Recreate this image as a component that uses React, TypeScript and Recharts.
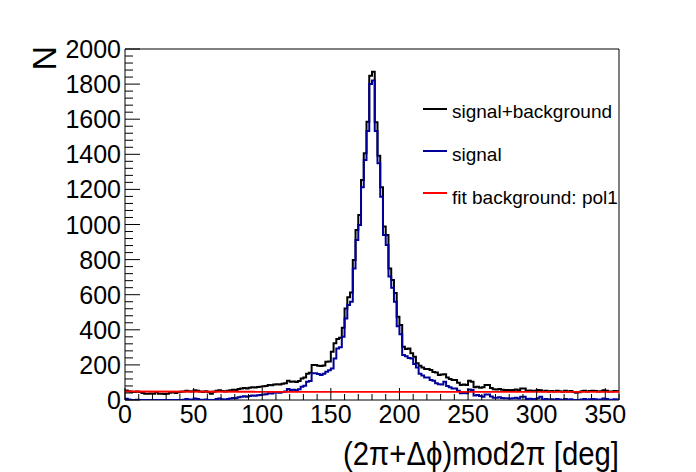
import React from 'react';
import { ComposedChart, Line, XAxis, YAxis, ReferenceArea, Legend } from 'recharts';

// 180 bins of 2 deg each, from 0 to 360
const BIN_WIDTH = 2;
const binEdges = Array.from({ length: 181 }, (_, i) => i * BIN_WIDTH);

const signalPlusBackground = [
  54, 50, 47, 45, 48, 46, 40, 36, 35, 37,
  36, 44, 36, 35, 34, 36, 42, 45, 40, 44,
  47, 49, 52, 50, 48, 55, 53, 48, 46, 50,
  44, 36, 47, 52, 55, 51, 48, 53, 56, 58,
  57, 62, 65, 68, 66, 70, 72, 71, 74, 76,
  78, 80, 86, 84, 89, 90, 88, 92, 95, 110,
  104, 106, 103, 108, 123, 128, 150, 155, 199, 199,
  195, 194, 196, 218, 220, 275, 323, 348, 355, 412,
  522, 585, 613, 798, 969, 1054, 1254, 1406, 1586, 1848,
  1871, 1582, 1392, 1212, 988, 940, 750, 684, 610, 475,
  427, 304, 290, 294, 266, 247, 209, 195, 185, 176,
  176, 171, 160, 157, 142, 145, 147, 128, 120, 114,
  114, 99, 85, 88, 85, 110, 104, 73, 75, 70,
  73, 85, 85, 68, 61, 60, 62, 58, 57, 57,
  55, 57, 60, 56, 65, 65, 52, 54, 53, 52,
  57, 55, 50, 52, 48, 51, 49, 53, 50, 47,
  52, 48, 51, 46, 42, 44, 50, 52, 48, 51,
  53, 51, 48, 50, 55, 52, 49, 48, 51, 50,
];

const signal = [
  7, 3, 0, 0, 1, 0, 0, 0, 0, 0,
  0, 0, 0, 0, 0, 0, 0, 0, 0, 0,
  0, 2, 5, 3, 1, 8, 6, 1, 0, 3,
  0, 0, 0, 5, 8, 4, 1, 6, 9, 11,
  10, 15, 18, 21, 19, 23, 25, 24, 27, 29,
  31, 33, 39, 37, 42, 43, 41, 45, 48, 63,
  57, 59, 56, 61, 76, 81, 104, 108, 152, 152,
  148, 142, 150, 161, 170, 180, 237, 294, 300, 360,
  465, 541, 560, 750, 912, 997, 1212, 1368, 1533, 1800,
  1820, 1533, 1349, 1158, 940, 883, 703, 640, 560, 420,
  375, 256, 250, 240, 237, 205, 185, 150, 140, 128,
  128, 114, 110, 95, 90, 88, 104, 80, 72, 66,
  66, 52, 38, 40, 38, 60, 57, 26, 28, 23,
  19, 32, 32, 20, 13, 13, 15, 11, 10, 10,
  8, 10, 13, 9, 19, 18, 5, 7, 6, 5,
  10, 19, 3, 5, 1, 4, 2, 6, 3, 0,
  5, 1, 4, 0, 0, 0, 3, 5, 1, 4,
  6, 4, 1, 3, 8, 5, 2, 1, 4, 3,
];

// pol1 fit evaluated at x = 0 and x = 360
const fitBackground = [47.8, 47.2];

const xMajorTicks = [0, 50, 100, 150, 200, 250, 300, 350];
const yMajorTicks = [0, 200, 400, 600, 800, 1000, 1200, 1400, 1600, 1800, 2000];
const xTicks = Array.from({ length: 37 }, (_, i) => i * 10);
const yTicks = Array.from({ length: 51 }, (_, i) => i * 40);

const series = [
  { key: 'total', name: 'signal+background', color: '#000000' },
  { key: 'signal', name: 'signal', color: '#000099' },
  { key: 'fit', name: 'fit background: pol1', color: '#ff0000' },
];

const last = signalPlusBackground.length - 1;
const data = binEdges.map((x, i) => ({
  x,
  total: signalPlusBackground[Math.min(i, last)],
  signal: signal[Math.min(i, last)],
  fit: i === 0 ? fitBackground[0] : i === binEdges.length - 1 ? fitBackground[1] : null,
}));

const FONT = '"Liberation Sans", Arial, Helvetica, sans-serif';

const YTick = (props: any) => {
  const { x, y, payload } = props;
  const major = yMajorTicks.includes(payload.value);
  return (
    <g>
      <line x1={x} x2={x + (major ? 15 : 8)} y1={y} y2={y} stroke="#000" />
      {major && (
        <text x={x - 4} y={y + 9} textAnchor="end" fontSize={25} fontFamily={FONT} fill="#000">
          {payload.value}
        </text>
      )}
    </g>
  );
};

const XTick = (props: any) => {
  const { x, y, payload } = props;
  const major = xMajorTicks.includes(payload.value);
  return (
    <g>
      <line x1={x} x2={x} y1={y} y2={y - (major ? 12 : 6)} stroke="#000" />
      {major && (
        <text x={x} y={y + 23} textAnchor="middle" fontSize={25} fontFamily={FONT} fill="#000">
          {payload.value}
        </text>
      )}
    </g>
  );
};

const XTitle = (props: any) => {
  const { viewBox } = props;
  const right = viewBox.x + viewBox.width;
  return (
    <text
      x={right - 276}
      y={viewBox.y + 65}
      textLength={276}
      lengthAdjust="spacingAndGlyphs"
      fontSize={33}
      fontFamily={FONT}
      fill="#000"
    >
      (2π+Δϕ)mod2π [deg]
    </text>
  );
};

const YTitle = (props: any) => {
  const { viewBox } = props;
  const x = viewBox.x + viewBox.width - 69;
  const y = viewBox.y - 3;
  return (
    <text
      x={x}
      y={y}
      transform={`rotate(-90, ${x}, ${y})`}
      textAnchor="end"
      fontSize={34}
      fontFamily={FONT}
      fill="#000"
    >
      N
    </text>
  );
};

const LegendBox = () => (
  <svg width={200} height={115}>
    {series.map((s, i) => (
      <g key={s.key}>
        <line x1={3} x2={27} y1={14 + i * 42} y2={14 + i * 42} stroke={s.color} strokeWidth={2} />
        <text x={32} y={23 + i * 43} fontSize={19} fontFamily={FONT} fill="#000">
          {s.name}
        </text>
      </g>
    ))}
  </svg>
);

const App = () => {
  return (
    <div style={{ position: 'absolute', left: 0, top: 0, background: '#fff' }}>
      <ComposedChart
        width={696}
        height={472}
        data={data}
        margin={{ top: 49, right: 77, bottom: 22, left: 65 }}
      >
        <XAxis
          dataKey="x"
          type="number"
          domain={[0, 360]}
          ticks={xTicks}
          interval={0}
          tickSize={0}
          tickMargin={0}
          axisLine={false}
          tick={<XTick />}
          height={50}
          allowDataOverflow
          label={{ content: (p: any) => <XTitle {...p} /> }}
        />
        <YAxis
          type="number"
          domain={[0, 2000]}
          ticks={yTicks}
          interval={0}
          tickSize={0}
          tickMargin={0}
          axisLine={false}
          tick={<YTick />}
          width={60}
          allowDataOverflow
          label={{ content: (p: any) => <YTitle {...p} /> }}
        />
        <ReferenceArea
          x1={0}
          x2={360}
          y1={0}
          y2={2000}
          fill="none"
          fillOpacity={0}
          stroke="#000"
          strokeWidth={1}
          ifOverflow="visible"
        />
        <Line
          dataKey="total"
          type="stepAfter"
          stroke="#000000"
          strokeWidth={2}
          dot={false}
          isAnimationActive={false}
        />
        <Line
          dataKey="signal"
          type="stepAfter"
          stroke="#000099"
          strokeWidth={2}
          dot={false}
          isAnimationActive={false}
        />
        <Line
          dataKey="fit"
          type="linear"
          stroke="#ff0000"
          strokeWidth={2}
          dot={false}
          connectNulls
          isAnimationActive={false}
        />
        <Legend
          layout="horizontal"
          verticalAlign="middle"
          align="center"
          wrapperStyle={{ left: 420, top: 95, width: 200, height: 115, margin: 0 }}
          content={() => <LegendBox />}
        />
      </ComposedChart>
    </div>
  );
};

export default App;
